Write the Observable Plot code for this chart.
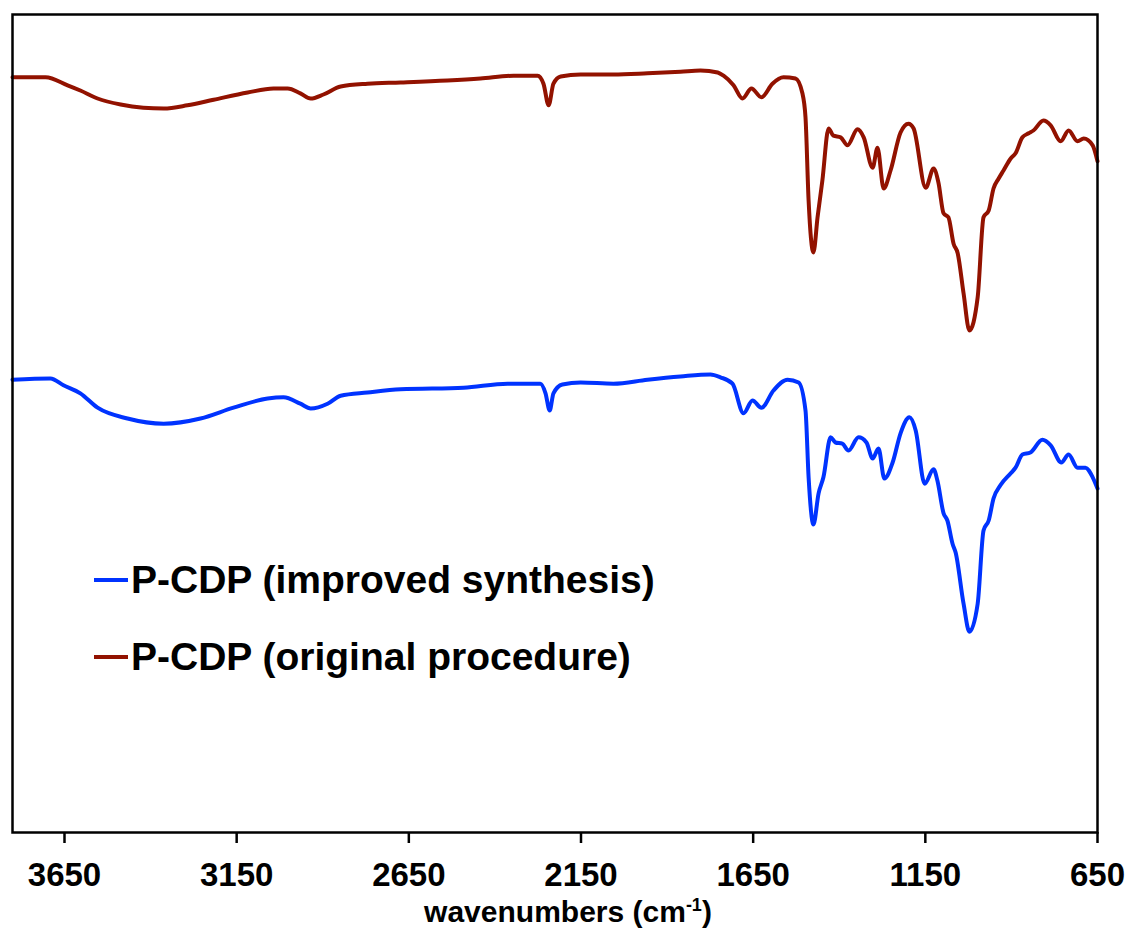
<!DOCTYPE html>
<html>
<head>
<meta charset="utf-8">
<script src="https://cdn.jsdelivr.net/npm/d3@7"></script>
<script src="https://cdn.jsdelivr.net/npm/@observablehq/plot@0.6"></script>
<style>
  html, body { margin: 0; padding: 0; background: white; }
  #wrap { position: relative; width: 1127px; height: 938px; font-family: "Liberation Sans", Arial, Helvetica, sans-serif; font-weight: bold; color: black; }
  #legend .row { position: absolute; display: flex; align-items: center; white-space: nowrap; }
  #legend .sw { display: inline-block; height: 4px; }
  #legend .tx { font-size: 39px; line-height: 1; }
  #xtitle { position: absolute; top: 897px; left: 0; width: 1136px; text-align: center; font-size: 30px; line-height: 1; }
  #xtitle sup { font-size: 0.6em; vertical-align: 0.6em; line-height: 0; }
</style>
</head>
<body>
<div id="wrap"></div>
<script>
// Series
const seriesNames = ["P-CDP (improved synthesis)", "P-CDP (original procedure)"];
const seriesColors = ["#0033ff", "#921200"];

// x tick labels (wavenumbers, cm-1)
const tickValues = [3650, 3150, 2650, 2150, 1650, 1150, 650];

// P-CDP (improved synthesis) — wavenumber and transmittance (a.u., offset)
const improvedWn = [3801,3691,3653,3604,3554,3467,3362,3255,3159,3060,3014,2965,2935,2886,2848,2770,2674,2491,2363,2268,2253,2241,2230,2204,2151,2056,1957,1861,1774,1745,1710,1678,1652,1626,1591,1550,1518,1498,1489,1475,1460,1446,1425,1411,1391,1373,1344,1321,1303,1286,1269,1245,1222,1196,1178,1152,1126,1115,1097,1086,1071,1062,1039,1022,998,981,966,952,932,902,888,868,845,810,786,755,734,708,685,664,650];
const improvedT = [56.6,56.75,55.9,54.9,53.1,51.75,51.1,51.75,53.1,54.25,54.4,53.6,53.0,53.6,54.6,55.0,55.4,55.6,56.1,56.1,54.9,52.75,54.9,56.0,56.25,56.1,56.6,57.0,57.25,56.9,56.1,52.4,54.0,53.1,55.25,56.6,56.25,52.75,44.4,38.5,42.4,44.4,49.4,48.75,48.6,47.75,49.4,48.75,46.75,48.0,44.25,46.25,49.9,51.9,50.25,43.6,45.4,44.0,39.9,39.0,36.1,35.0,28.6,25.1,28.6,37.75,39.0,41.75,43.4,44.9,45.6,47.25,47.5,49.1,48.4,46.25,47.25,45.6,45.6,44.4,43.0];

// P-CDP (original procedure)
const originalWn = [3801,3705,3641,3604,3554,3487,3421,3362,3293,3217,3118,3043,3002,2965,2935,2898,2848,2770,2674,2538,2442,2346,2276,2259,2244,2230,2209,2151,2056,1957,1861,1803,1753,1736,1707,1681,1655,1626,1594,1562,1527,1507,1498,1489,1475,1463,1449,1431,1417,1396,1376,1347,1329,1303,1289,1271,1251,1222,1199,1184,1149,1126,1112,1097,1083,1068,1056,1039,1022,998,981,966,952,937,923,902,888,868,850,836,807,786,757,734,708,690,664,650];
const originalT = [94.4,94.4,93.4,92.75,91.75,91.0,90.6,90.5,90.9,91.6,92.5,93.0,93.0,92.4,91.75,92.25,93.25,93.6,93.75,94.0,94.25,94.6,94.6,93.6,90.9,93.6,94.5,94.75,94.75,94.9,95.1,95.25,95.0,94.6,93.4,91.75,93.0,91.9,93.6,94.4,94.25,92.4,89.4,79.0,72.5,76.9,81.5,88.0,87.1,86.9,85.9,87.9,86.9,83.1,85.6,80.5,82.75,87.5,88.6,88.0,80.6,83.0,81.25,77.4,76.9,73.6,72.4,67.4,62.75,66.9,76.9,77.75,80.5,81.75,82.75,84.25,84.9,86.9,87.4,87.75,89.0,88.4,86.4,87.75,86.4,86.75,85.9,83.9];

const data = [
  ...improvedWn.map((wn, i) => ({series: seriesNames[0], wn, t: improvedT[i]})),
  ...originalWn.map((wn, i) => ({series: seriesNames[1], wn, t: originalT[i]}))
];

const chart = Plot.plot({
  width: 1127,
  height: 890,
  marginLeft: 12,
  marginRight: 30,
  marginTop: 14,
  marginBottom: 58,
  style: {
    fontFamily: '"Liberation Sans", Arial, Helvetica, sans-serif',
    fontWeight: "bold",
    fontSize: "33px",
    color: "black",
    background: "white",
    overflow: "visible"
  },
  x: {domain: [3801, 650]},
  y: {domain: [0, 102.25], axis: null},
  color: {domain: seriesNames, range: seriesColors},
  marks: [
    Plot.line(data, {x: "wn", y: "t", z: "series", stroke: "series", strokeWidth: 4, curve: "monotone-x"}),
    Plot.frame({stroke: "black", strokeWidth: 2.5}),
    Plot.axisX({ticks: tickValues, tickSize: 11, tickPadding: 19, strokeWidth: 2.5, tickFormat: d => String(d), label: null, fontSize: 33, fontWeight: "bold"})
  ]
});

const wrap = document.getElementById("wrap");
wrap.appendChild(chart);

// Legend (inside plot area)
const legend = document.createElement("div");
legend.id = "legend";
const rowTops = [560, 637];
seriesNames.forEach((name, i) => {
  const row = document.createElement("div");
  row.className = "row";
  row.style.left = "94px";
  row.style.top = rowTops[i] + "px";
  const sw = document.createElement("span");
  sw.className = "sw";
  sw.style.width = "34px";
  sw.style.marginRight = "3px";
  sw.style.background = seriesColors[i];
  const tx = document.createElement("span");
  tx.className = "tx";
  tx.textContent = name;
  row.appendChild(sw);
  row.appendChild(tx);
  legend.appendChild(row);
});
wrap.appendChild(legend);

// x-axis title
const xt = document.createElement("div");
xt.id = "xtitle";
xt.innerHTML = "wavenumbers (cm<sup>-1</sup>)";
wrap.appendChild(xt);
</script>
</body>
</html>
